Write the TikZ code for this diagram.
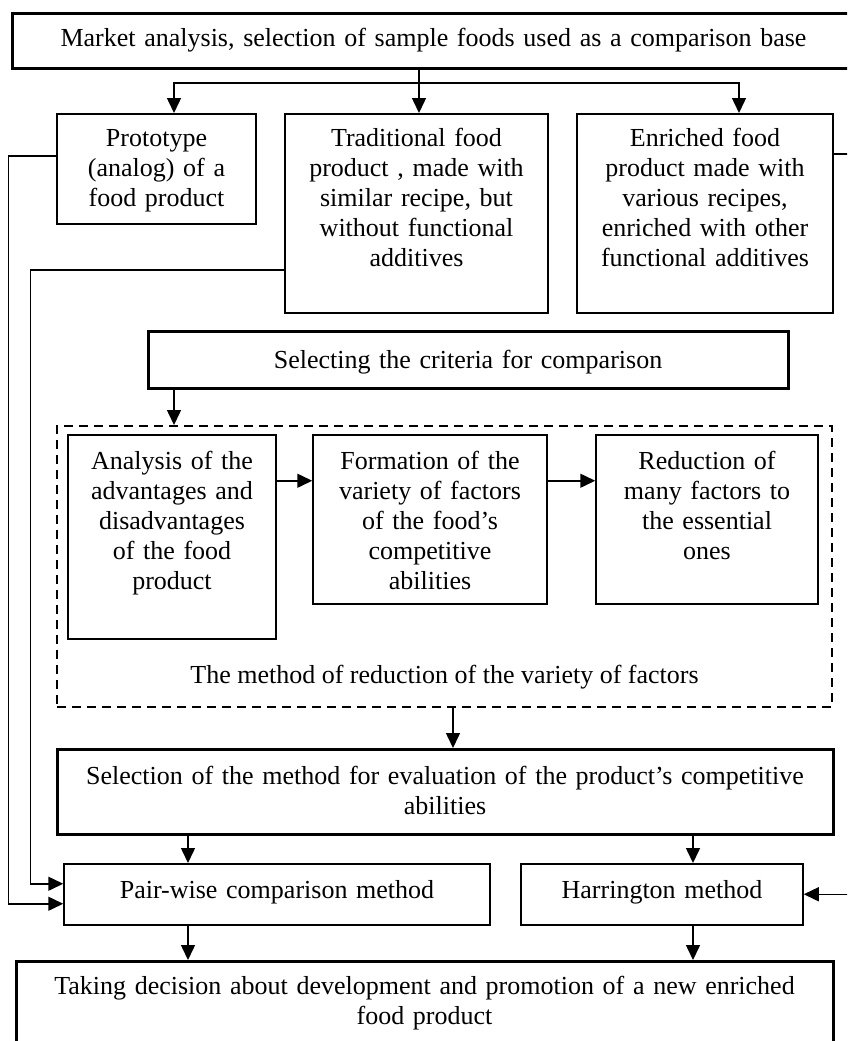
\documentclass[tikz,border=0pt]{standalone}
\usepackage{fontspec}
\setmainfont{Liberation Serif}
\usetikzlibrary{arrows.meta}

\tikzset{
    cell/.style 2 args={draw, line width=1.5pt, inner sep=0pt, align=center,
        anchor=north, text width=#1, text height=33pt, text depth=#2},
    heavy/.style={line width=3pt},
    arr/.style={line width=1.5pt, -{Triangle[length=15pt,width=14pt]}},
}

\begin{document}
\begin{tikzpicture}[x=1pt, y=-1pt, font=\fontsize{26}{30}\selectfont]
    \useasboundingbox (0,0) rectangle (847,1041);
    \clip (0,0) rectangle (847,1041);

    % Base and sample products
    \node[cell={843pt}{22pt}, heavy] (base) at (433.5,12) {Market analysis, selection of sample foods used as a comparison base};
    \node[cell={199pt}{77pt}] (proto) at (156.5,113) {Prototype\\(analog) of a\\food product};
    \node[cell={263pt}{166pt}] (trad) at (416.5,113) {Traditional food\\product , made with\\similar recipe, but\\without functional\\additives};
    \node[cell={256pt}{166pt}] (enr) at (705,113) {Enriched food\\product made with\\various recipes,\\enriched with other\\functional additives};

    % Criteria
    \node[cell={640pt}{20pt}, heavy, text height=37pt] (sel) at (468,330) {Selecting the criteria for comparison};
    \node[draw, dash pattern=on 9pt off 6pt, line width=1.5pt, inner sep=0pt, anchor=north,
        minimum width=775pt, minimum height=281pt] (frame) at (444.5,425) {};
    \node[cell={208pt}{169pt}, text height=35pt] (ana) at (172,434) {Analysis of the\\advantages and\\disadvantages\\of the food\\product};
    \node[cell={234pt}{134pt}, text height=35pt] (form) at (430,434) {Formation of the\\variety of factors\\of the food’s\\competitive\\abilities};
    \node[cell={222pt}{134pt}, text height=35pt] (red) at (707,434) {Reduction of\\many factors to\\the essential\\ones};
    \node[anchor=base] (frametitle) at (444.5,683) {The method of reduction of the variety of factors};

    % Methods and decision
    \node[cell={776pt}{50pt}, heavy, text height=35pt] (choice) at (445,748) {Selection of the method for evaluation of the product’s competitive\\abilities};
    \node[cell={426pt}{26pt}, text height=35pt] (pair) at (277,863) {Pair-wise comparison method};
    \node[cell={282pt}{26pt}, text height=35pt] (harr) at (662,863) {Harrington method};
    \node[cell={817pt}{77pt}, heavy] (dec) at (424.5,960) {Taking decision about development and promotion of a new enriched\\food product};

    % Column positions of the vertical arrows
    \coordinate (fork) at (419,83);
    \coordinate (critx) at (174,0);
    \coordinate (pairx) at (188,0);
    \coordinate (harrx) at (693,0);

    % Branching from the base
    \draw[line width=1.5pt] (base.south -| fork) -- (fork);
    \draw[arr] (fork) -| ([xshift=17.5pt]proto.north);
    \draw[arr] (fork) -- (trad.north -| fork);
    \draw[arr] (fork) -| ([xshift=34pt]enr.north);

    % Samples to the methods
    \draw[arr] ([yshift=13pt]proto.west) -- ++(-48,0) |- ([yshift=-9.5pt]pair.west);
    \draw[arr] ([yshift=-56.5pt]trad.west) -- ++(-254,0) |- ([yshift=10.5pt]pair.west);
    \draw[arr] ([yshift=59.5pt]enr.east) -- ++(30,0) |- (harr.east);

    % Reduction of factors
    \draw[arr] (sel.south -| critx) -- (frame.north -| critx);
    \draw[arr] ([yshift=56pt]ana.east) -- ([yshift=56pt]ana.east -| form.west);
    \draw[arr] ([yshift=38.5pt]form.east) -- ([yshift=38.5pt]form.east -| red.west);
    \draw[arr] ([xshift=8.5pt]frame.south) -- ([xshift=8.5pt]frame.south |- choice.north);

    % Evaluation
    \draw[arr] (choice.south -| pairx) -- (pair.north -| pairx);
    \draw[arr] (choice.south -| harrx) -- (harr.north -| harrx);
    \draw[arr] (pair.south -| pairx) -- (dec.north -| pairx);
    \draw[arr] (harr.south -| harrx) -- (dec.north -| harrx);
\end{tikzpicture}
\end{document}
